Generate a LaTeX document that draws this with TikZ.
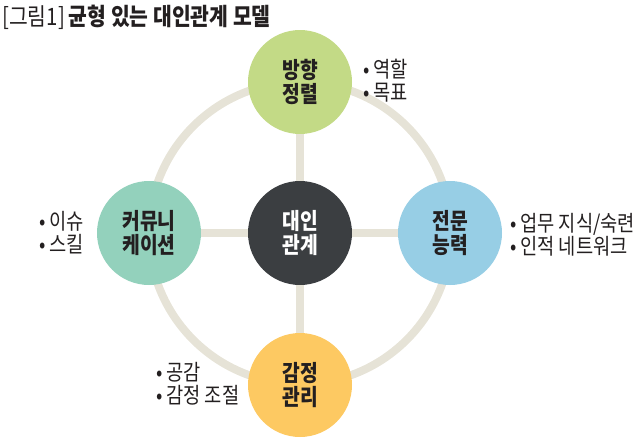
\documentclass[tikz,border=0pt]{standalone}
\usepackage{fontspec}
\usepackage{xcolor}
\newfontfamily\kr[FakeStretch=0.85]{Noto Sans CJK KR}
\definecolor{RingBeige}{HTML}{E6E3D7}
\definecolor{LeafGreen}{HTML}{C3DA86}
\definecolor{MintTeal}{HTML}{93D1BC}
\definecolor{SkyBlue}{HTML}{97CEE5}
\definecolor{SunYellow}{HTML}{FDC962}
\definecolor{CoreCharcoal}{HTML}{3B3E41}
\definecolor{InkBlack}{HTML}{231F20}
\tikzset{
  hub/.style={circle, minimum size=78pt, inner sep=0pt, align=center,
    font={\kr\bfseries\fontsize{17}{17.5}\selectfont}, text=InkBlack},
  notes/.style={anchor=west, align=left, inner sep=0pt,
    font={\kr\fontsize{16.5}{17.25}\selectfont}, text=InkBlack},
  link/.style={RingBeige, line width=6pt}
}
\begin{document}
\begin{tikzpicture}[x=0.75pt, y=-0.75pt]
  \useasboundingbox (0,0) rectangle (640,443);
  \def\ringR{151}
  \coordinate (mid) at (300,233);
  \draw[link] (mid) circle (\ringR);
  % the five circles
  \node[hub, fill=CoreCharcoal, text=white] (core) at (mid) {대인\\관계};
  \node[hub, fill=LeafGreen] (dir) at (300,82) {방향\\정렬};
  \node[hub, fill=MintTeal] (comm) at (149,233) {커뮤니\\케이션};
  \node[hub, fill=SkyBlue] (skill) at (450,233) {전문\\능력};
  \node[hub, fill=SunYellow] (emo) at (300,385) {감정\\관리};
  \foreach \s in {dir,comm,skill,emo}
    \draw[link] (core) -- (\s);
  % bullet notes
  \node[notes] (dirnote) at (363,81) {•\,역할\\•\,목표};
  \node[notes] (commnote) at (39,233) {•\,이슈\\•\,스킬};
  \node[notes] (skillnote) at (510,235) {•\,업무 지식/숙련\\•\,인적 네트워크};
  \node[notes] (emonote) at (156,384) {•\,공감\\•\,감정 조절};
  \node[anchor=west, inner sep=0pt, text=InkBlack,
    font={\kr\fontsize{18}{20}\selectfont}] (title) at (2,17)
    {[그림1]\,{\bfseries 균형 있는 대인관계 모델}};
\end{tikzpicture}
\end{document}
